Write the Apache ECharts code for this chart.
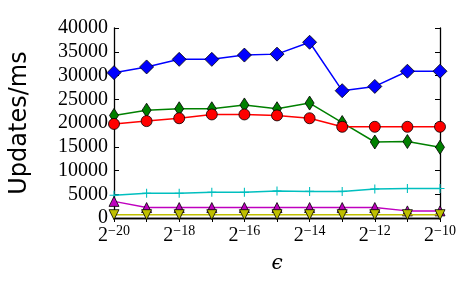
<!DOCTYPE html>
<html><head><meta charset="utf-8">
<script src="https://cdn.jsdelivr.net/npm/echarts@6/dist/echarts.min.js"></script>
<style>html,body{margin:0;padding:0;background:#fff}#c{width:475px;height:293px}</style>
</head><body><div id="c"></div>
<script>
// x positions are log2(epsilon)
const exponents = [-20,-19,-18,-17,-16,-15,-14,-13,-12,-11,-10];
const blueSeries    = [30600,31800,33400,33400,34300,34500,37000,26800,27700,30900,30900];
const greenSeries   = [21600,22700,23000,23000,23800,23000,24200,20100,16000,16100,14900];
const redSeries     = [19800,20400,21000,21800,21800,21600,21000,19200,19200,19200,19200];
const cyanSeries    = [4800,5200,5200,5400,5400,5700,5600,5600,6100,6200,6200];
const magentaSeries = [3500,2200,2200,2200,2200,2200,2200,2200,2200,1500,1500];
const yellowSeries  = [700,700,700,700,700,700,700,700,700,700,700];
const yTicks = [0,5000,10000,15000,20000,25000,30000,35000,40000];

const serif = 'Liberation Serif';
const thinDiamond = 'path://M5,0 L9,7 L5,14 L1,7 Z';
const triDown = 'path://M0,0 L10,0 L5,9 Z';
const triUp = 'path://M5,0 L10,9 L0,9 Z';
const plus = 'path://M4.4,0 L5.6,0 L5.6,4.4 L10,4.4 L10,5.6 L5.6,5.6 L5.6,10 L4.4,10 L4.4,5.6 L0,5.6 L0,4.4 L4.4,4.4 Z';

function mk(name, vals, color, symbol, size, z){
  return {
    name, type:'line', data: exponents.map((e,i)=>[e, vals[i]]),
    symbol, symbolSize: size, showAllSymbol:true,
    lineStyle:{color, width:1.5},
    itemStyle:{color, borderColor:'#000', borderWidth: symbol===plus?0:0.8},
    z, animation:false
  };
}

const chart = echarts.init(document.getElementById('c'), null, {renderer:'canvas'});
chart.setOption({
  animation:false,
  grid:{left:111, right:35, top:28, bottom:75},
  xAxis:[{
    type:'value', min:-20, max:-10, interval:1,
    axisLine:{lineStyle:{color:'#000', width:1.3}},
    axisTick:{inside:true, length:4, lineStyle:{color:'#000'}},
    splitLine:{show:false},
    axisLabel:{
      margin:6,
      formatter: v => (v % 2 === 0) ? '{b|2}{e|\u2212' + Math.abs(v) + '}' : '',
      rich:{
        b:{fontFamily:serif, fontSize:20, color:'#000', lineHeight:22, verticalAlign:'bottom'},
        e:{fontFamily:serif, fontSize:14, color:'#000', lineHeight:14, verticalAlign:'top'}
      }
    },
    name:'\u03F5', nameLocation:'middle', nameGap:36,
    nameTextStyle:{fontFamily:'DejaVu Serif', fontStyle:'italic', fontSize:20, color:'#000'}
  },{
    type:'value', min:-20, max:-10, interval:1, position:'top',
    axisLine:{show:true, lineStyle:{color:'#000', width:1.3}},
    axisTick:{inside:true, length:4, lineStyle:{color:'#000'}},
    axisLabel:{show:false}, splitLine:{show:false}
  }],
  yAxis:[{
    type:'value', min:0, max:40000, interval:5000,
    axisLine:{show:true, lineStyle:{color:'#000', width:1.3}},
    axisTick:{show:true, inside:true, length:5, lineStyle:{color:'#000'}},
    splitLine:{show:false},
    axisLabel:{fontFamily:serif, fontSize:20, color:'#000', margin:6,
      formatter: v => yTicks.includes(v) ? String(v) : ''},
    name:'Updates/ms', nameLocation:'middle', nameGap:82,
    nameTextStyle:{fontFamily:'DejaVu Sans', fontSize:24, color:'#000'}
  },{
    type:'value', min:0, max:40000, interval:5000, position:'right',
    axisLine:{show:true, lineStyle:{color:'#000', width:1.3}},
    axisTick:{show:true, inside:true, length:5, lineStyle:{color:'#000'}},
    axisLabel:{show:false}, splitLine:{show:false}
  }],
  series:[
    mk('blue', blueSeries, '#0000ff', 'diamond', 14, 2),
    mk('green', greenSeries, '#008000', thinDiamond, [9,14], 3),
    mk('red', redSeries, '#ff0000', 'circle', 11, 4),
    mk('cyan', cyanSeries, '#00bfbf', plus, 9, 5),
    mk('magenta', magentaSeries, '#bf00bf', triUp, [10,10], 6),
    mk('yellow', yellowSeries, '#bfbf00', triDown, [10,10], 7)
  ]
});
</script></body></html>
